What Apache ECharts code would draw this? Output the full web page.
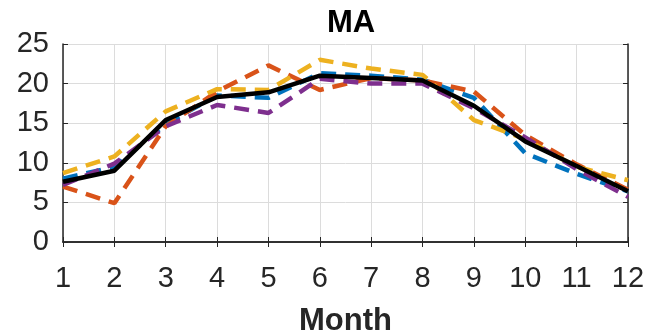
<!DOCTYPE html>
<html>
<head>
<meta charset="utf-8">
<script src="https://cdn.jsdelivr.net/npm/echarts@6/dist/echarts.min.js"></script>
<style>html,body{margin:0;padding:0;background:#fff}#c{width:650px;height:335px}</style>
</head>
<body>
<div id="c"></div>
<script>
const months = [1,2,3,4,5,6,7,8,9,10,11,12];
const yTicks = [0,5,10,15,20,25];
const blueVals   = [8.0, 9.5, 14.9, 18.5, 18.2, 21.3, 21.0, 20.5, 18.2, 11.2, 8.6, 6.4];
const orangeVals = [7.0, 4.9, 14.6, 19.0, 22.3, 19.2, 20.7, 20.4, 19.0, 13.5, 9.8, 6.6];
const yellowVals = [8.7, 10.8, 16.5, 19.3, 19.2, 23.0, 21.9, 21.1, 15.4, 13.0, 9.5, 7.8];
const purpleVals = [7.2, 9.9, 14.6, 17.3, 16.3, 20.6, 20.0, 20.0, 16.9, 13.2, 9.2, 5.7];
const blackVals  = [7.6, 9.0, 15.4, 18.3, 18.9, 21.0, 20.7, 20.4, 17.2, 12.7, 9.6, 6.4];

const pairs = v => months.map((m,i)=>[m, v[i]]);
const font = 'Liberation Sans, Arial, sans-serif';
const axisCol = '#262626';

function dashed(name, color, vals){
  return {name, type:'line', data:pairs(vals), symbol:'none', smooth:false,
    lineStyle:{color, width:4.5, type:[15,9]}, z:2};
}
const chart = echarts.init(document.getElementById('c'));
chart.setOption({
  animation:false,
  title:{text:'MA', left:346, top:3, textAlign:'center',
    textStyle:{fontFamily:font, fontWeight:'bold', fontSize:31, color:'#000'}},
  grid:{left:63, right:22, top:44, bottom:93, containLabel:false, outerBoundsMode:'none'},
  xAxis:[{type:'value', min:1, max:12, interval:1,
    name:'Month', nameLocation:'middle', nameGap:64,
    nameTextStyle:{fontFamily:font, fontWeight:'bold', fontSize:31, color:axisCol},
    axisLine:{show:true, onZero:false, lineStyle:{color:axisCol, width:1.5}},
    axisTick:{show:true, inside:true, length:5, lineStyle:{color:axisCol}},
    axisLabel:{fontFamily:font, fontSize:29, color:axisCol, margin:22},
    splitLine:{show:true, lineStyle:{color:'#dcdcdc', width:1}}},
   {type:'value', position:'top', min:1, max:12, interval:1,
    axisLine:{show:true, lineStyle:{color:axisCol, width:1.5}},
    axisTick:{show:true, inside:true, length:5, lineStyle:{color:axisCol}},
    axisLabel:{show:false}, splitLine:{show:false}}],
  yAxis:[{type:'value', min:0, max:25, interval:5,
    axisLine:{show:true, onZero:false, lineStyle:{color:axisCol, width:1.5}},
    axisTick:{show:true, inside:true, length:5, lineStyle:{color:axisCol}},
    axisLabel:{fontFamily:font, fontSize:29, color:axisCol, margin:14,
      formatter: v => yTicks.includes(v) ? String(v) : ''},
    splitLine:{show:true, lineStyle:{color:'#dcdcdc', width:1}}},
   {type:'value', position:'right', min:0, max:25, interval:5,
    axisLine:{show:true, lineStyle:{color:axisCol, width:1.5}},
    axisTick:{show:true, inside:true, length:5, lineStyle:{color:axisCol}},
    axisLabel:{show:false}, splitLine:{show:false}}],
  series:[
    dashed('blue','#0072BD',blueVals),
    dashed('orange','#D95319',orangeVals),
    dashed('yellow','#EDB120',yellowVals),
    dashed('purple','#7E2F8E',purpleVals),
    {name:'black', type:'line', data:pairs(blackVals), symbol:'none',
      lineStyle:{color:'#000', width:4.5}, z:3}
  ]
});
</script>
</body>
</html>
